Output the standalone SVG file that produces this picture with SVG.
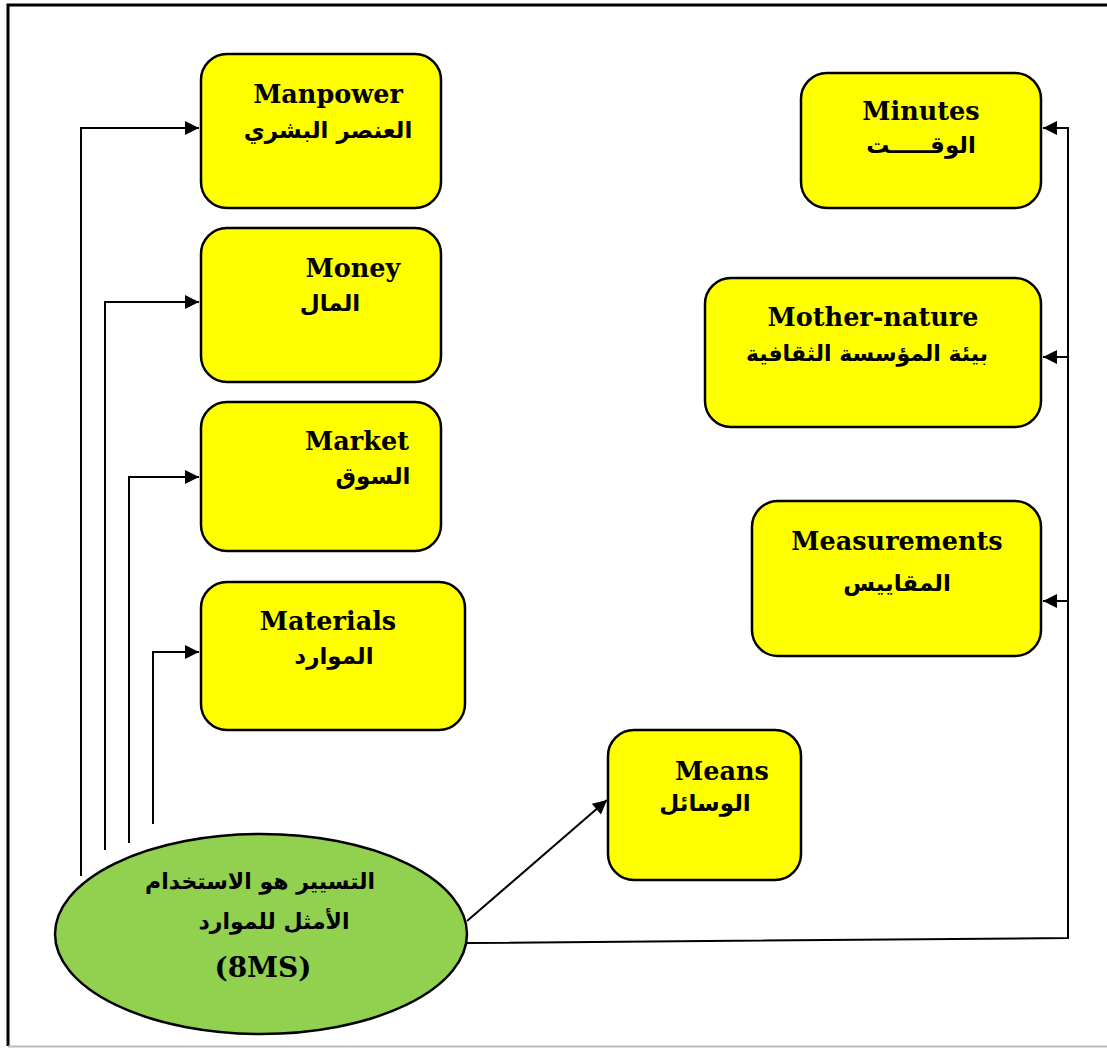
<svg xmlns="http://www.w3.org/2000/svg" width="1107" height="1048" viewBox="0 0 1107 1048">
<defs>
<style>
.box{fill:#FFFF00;stroke:#000;stroke-width:2.5}
.ell{fill:#92D050;stroke:#000;stroke-width:2.5}
.en{font-family:"DejaVu Serif","Liberation Serif",serif;font-weight:bold;font-size:25.5px;fill:#000;text-anchor:middle}
.ar{font-family:"DejaVu Sans","Noto Sans",sans-serif;font-weight:bold;font-size:23px;fill:#000;text-anchor:middle}
.ln{fill:none;stroke:#000;stroke-width:2}
</style>
<marker id="ah2" viewBox="0 0 10 10" refX="10" refY="5" markerWidth="16" markerHeight="14" markerUnits="userSpaceOnUse" orient="auto">
<path d="M0,0 L10,5 L0,10 z" fill="#000"/>
</marker>
</defs>
<rect x="0" y="0" width="1107" height="1048" fill="#fff"/>
<path d="M8,1046 V5 H1107" fill="none" stroke="#000" stroke-width="3"/>
<line x1="8" y1="1046.5" x2="1107" y2="1046.5" stroke="#bbb" stroke-width="2"/>

<g id="connectors">
<polyline class="ln" points="81,876 81,128 199,128" marker-end="url(#ah2)"/>
<polyline class="ln" points="105,850 105,302 199,302" marker-end="url(#ah2)"/>
<polyline class="ln" points="129,843 129,477 199,477" marker-end="url(#ah2)"/>
<polyline class="ln" points="153,824 153,652 199,652" marker-end="url(#ah2)"/>
<line class="ln" x1="467" y1="921" x2="607" y2="800" marker-end="url(#ah2)"/>
<polyline class="ln" points="467,943 1068,938 1068,128 1043,128" marker-end="url(#ah2)"/>
<line class="ln" x1="1068" y1="357" x2="1043" y2="357" marker-end="url(#ah2)"/>
<line class="ln" x1="1068" y1="601" x2="1043" y2="601" marker-end="url(#ah2)"/>
</g>

<g id="manpower">
<rect class="box" x="201" y="54" width="240" height="154" rx="26"/>
<text class="en" x="328" y="103">Manpower</text>
<text class="ar" x="328" y="138">العنصر البشري</text>
</g>
<g id="money">
<rect class="box" x="201" y="228" width="240" height="154" rx="26"/>
<text class="en" x="353" y="277">Money</text>
<text class="ar" x="330" y="311">المال</text>
</g>
<g id="market">
<rect class="box" x="201" y="402" width="240" height="149" rx="26"/>
<text class="en" x="357" y="450">Market</text>
<text class="ar" x="373" y="484">السوق</text>
</g>
<g id="materials">
<rect class="box" x="201" y="582" width="264" height="148" rx="26"/>
<text class="en" x="328" y="630">Materials</text>
<text class="ar" x="334" y="664">الموارد</text>
</g>
<g id="means">
<rect class="box" x="608" y="730" width="193" height="150" rx="26"/>
<text class="en" x="722" y="780">Means</text>
<text class="ar" x="705" y="811">الوسائل</text>
</g>
<g id="minutes">
<rect class="box" x="801" y="73" width="240" height="135" rx="26"/>
<text class="en" x="921" y="120">Minutes</text>
<text class="ar" x="921" y="153">الوقـــــت</text>
</g>
<g id="mother-nature">
<rect class="box" x="705" y="278" width="336" height="149" rx="26"/>
<text class="en" x="873" y="326">Mother-nature</text>
<text class="ar" x="867" y="361" style="font-size:22px">بيئة المؤسسة الثقافية</text>
</g>
<g id="measurements">
<rect class="box" x="752" y="501" width="289" height="155" rx="26"/>
<text class="en" x="897" y="550">Measurements</text>
<text class="ar" x="897" y="591">المقاييس</text>
</g>
<g id="center">
<ellipse class="ell" cx="261" cy="934" rx="206" ry="100"/>
<text class="ar" x="260" y="889" style="font-size:22px">التسيير هو الاستخدام</text>
<text class="ar" x="274" y="929" style="font-size:22px">الأمثل للموارد</text>
<text class="en" x="263" y="977" style="font-size:28px">(8MS)</text>
</g>
</svg>
